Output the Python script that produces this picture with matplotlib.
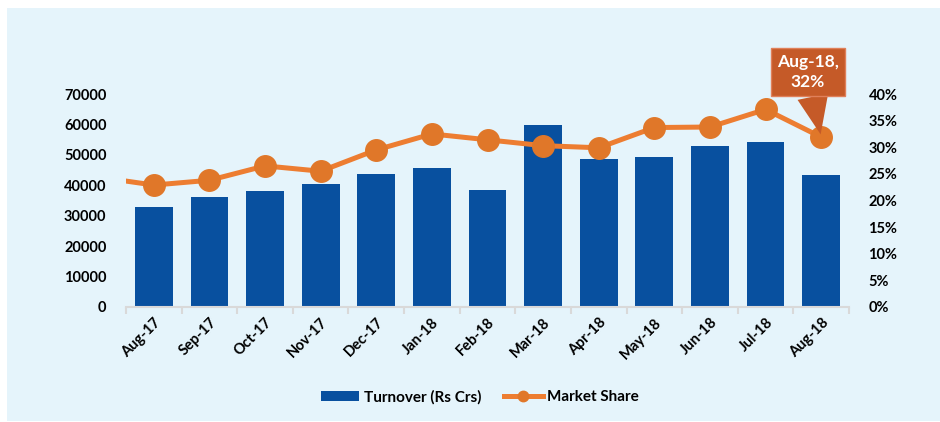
import matplotlib as mpl
mpl.use('Agg')
import matplotlib.pyplot as plt
from matplotlib.patches import Rectangle
from matplotlib.lines import Line2D
from matplotlib.ticker import PercentFormatter

# data
months = ['Aug-17', 'Sep-17', 'Oct-17', 'Nov-17', 'Dec-17', 'Jan-18', 'Feb-18',
          'Mar-18', 'Apr-18', 'May-18', 'Jun-18', 'Jul-18', 'Aug-18']
turnover = [33000, 36300, 38100, 40400, 43700, 45700, 38400,
            59800, 48600, 49300, 52900, 54200, 43400]
share = [0.229, 0.238, 0.265, 0.255, 0.295, 0.325, 0.314,
         0.303, 0.299, 0.337, 0.338, 0.371, 0.319]
share_prev = 0.244   # Jul-17, only its segment shows at the left edge
left_ticks = [0, 10000, 20000, 30000, 40000, 50000, 60000, 70000]
right_ticks = [0, 0.05, 0.10, 0.15, 0.20, 0.25, 0.30, 0.35, 0.40]

BLUE = '#08509F'
ORANGE = '#ED7D31'
MARKER = '#E07729'
BG = '#E5F4FB'

mpl.rcParams.update({'font.family': ['Lato', 'DejaVu Sans'], 'font.size': 10.5,
                     'font.weight': 'bold'})

fig = plt.figure(figsize=(9.4, 4.22), dpi=100)
fig.patches.append(Rectangle((7 / 940, 0.002), 933 / 940, 1 - 8 / 422 - 0.002,
                             transform=fig.transFigure, fc=BG, ec='none', zorder=-10))

ax = fig.add_axes([126 / 940, 1 - 307 / 422, 723 / 940, 213 / 422])
ax.set_facecolor('none')
x = list(range(len(months)))
ax.bar(x, turnover, width=0.68, color=BLUE, zorder=2)
ax.set_xlim(-0.5, len(months) - 0.5)
ax.set_ylim(0, 70000)
ax.set_yticks(left_ticks)
ax.set_xticks(x)
ax.set_xticklabels(months, rotation=45, ha='right', rotation_mode='anchor')
ax.set_xticks([i - 0.5 for i in range(len(months) + 1)], minor=True)
ax.tick_params(axis='x', which='major', length=0, pad=6)
ax.tick_params(axis='x', which='minor', length=5, width=1.5, color='#D9D9D9')
ax.tick_params(axis='y', length=0, pad=14)
for s in ['top', 'left', 'right']:
    ax.spines[s].set_visible(False)
ax.spines['bottom'].set_color('#D9D9D9')
ax.spines['bottom'].set_linewidth(1.5)

ax2 = ax.twinx()
ax2.set_ylim(0, 0.40)
ax2.set_yticks(right_ticks)
ax2.yaxis.set_major_formatter(PercentFormatter(1.0, decimals=0))
ax2.tick_params(axis='y', length=0, pad=14)
for s in ax2.spines.values():
    s.set_visible(False)
ax2.plot([-1] + x, [share_prev] + share, color=ORANGE, lw=3.6, marker='o',
         markersize=15.5, markerfacecolor=MARKER, markeredgecolor=MARKER,
         markevery=list(range(1, len(x) + 1)), zorder=3, solid_capstyle='butt')

ax2.annotate('Aug-18,\n32%', xy=(x[-1], share[-1]), xytext=(-9.7, 47),
             textcoords='offset points', ha='center', va='center',
             color='white', fontsize=12.5, fontweight='bold', linespacing=1.35,
             bbox=dict(boxstyle='square,pad=0.35', fc='#C55A28', ec='#E0805A', lw=1),
             arrowprops=dict(arrowstyle='wedge,tail_width=1.8,shrink_factor=0.5',
                             fc='#C55A28', ec='none', shrinkA=0, shrinkB=2),
             annotation_clip=False, zorder=5)

handles = [Rectangle((0, 0), 1, 1, fc=BLUE, ec='none'),
           Line2D([0], [0], color=ORANGE, lw=3.6, marker='o', markersize=7.5,
                  markerfacecolor=MARKER, markeredgecolor=MARKER)]
fig.legend(handles, ['Turnover (Rs Crs)', 'Market Share'], loc='center',
           bbox_to_anchor=(480 / 940, 1 - 397 / 422), ncol=2, frameon=False,
           handlelength=2.5, handleheight=0.6, handletextpad=0.3, columnspacing=1.5,
           prop={'weight': 'bold', 'size': 11})

fig.savefig('out.png', dpi=100, facecolor='white')
